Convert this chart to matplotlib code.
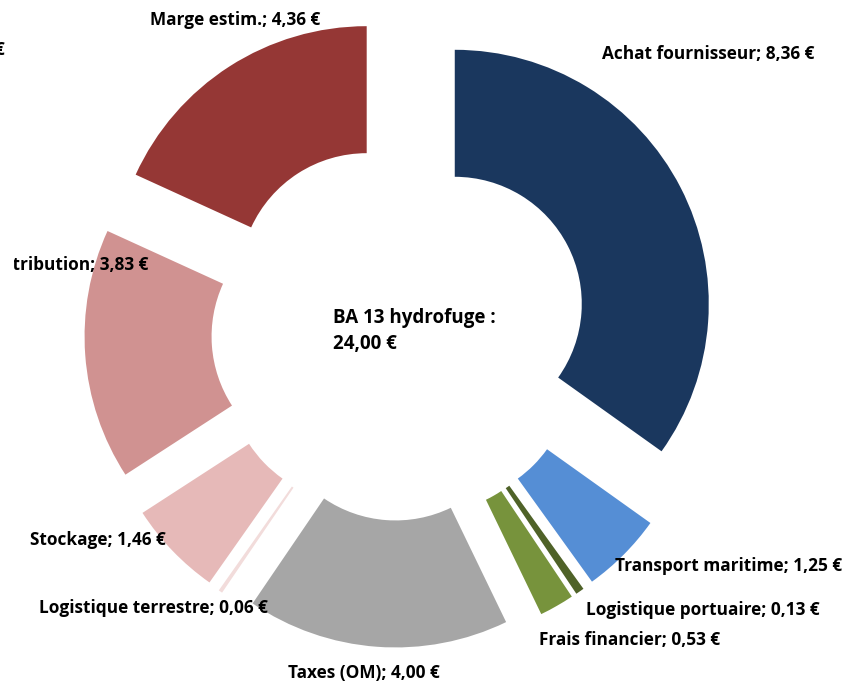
import matplotlib
matplotlib.use("Agg")
import matplotlib.pyplot as plt
from matplotlib.transforms import Bbox, TransformedBbox

# cost breakdown for one product, clockwise from 12 o'clock
categories = ["Achat fournisseur", "Transport maritime", "Logistique portuaire",
              "Frais financier", "Taxes (OM)", "Logistique terrestre",
              "Stockage", "Distribution", "Marge estim."]
values = [8.36, 1.25, 0.13, 0.53, 4.00, 0.06, 1.46, 3.83, 4.36]
colors = ["#1A375E", "#558ED5", "#4F6228", "#77933C", "#A6A6A6",
          "#F2DCDB", "#E6B9B8", "#D09291", "#953735"]
total_label = "BA 13 hydrofuge :\n24,00 €"

W, H = 848, 685
CX, CY = 400, H - 332   # pie centre in pixel coords (y up)
R = 254
EXPLODE = 61.6

# label anchor (x, y from top, ha)
label_pos = [
    (708, 54, "center"),
    (842, 566, "right"),
    (820, 610, "right"),
    (720, 640, "right"),
    (364, 673, "center"),
    (268, 608, "right"),
    (166, 540, "right"),
    (148, 265, "right"),
    (235, 20, "center"),
]


def fmt(v):
    return f"{v:.2f}".replace(".", ",") + " €"


plt.rcParams["font.family"] = ["Open Sans", "DejaVu Sans"]

fig = plt.figure(figsize=(W / 100, H / 100), dpi=100)
ax = fig.add_axes([0, 0, 1, 1])

ax.pie(values, colors=colors, startangle=90, counterclock=False,
       center=(CX, CY), radius=R, explode=[EXPLODE] * len(values),
       wedgeprops=dict(width=R / 2, linewidth=0), frame=True)
ax.set_xlim(0, W)
ax.set_ylim(0, H)
ax.set_aspect("equal")
ax.axis("off")

# the original chart area is cut a little inside the left edge
clip_box = TransformedBbox(Bbox([[14, 0], [W, H]]), ax.transData)

for name, v, (x, y, ha) in zip(categories, values, label_pos):
    t = ax.text(x, H - y, f"{name}; {fmt(v)}", ha=ha, va="center",
                fontsize=12.4, fontweight="bold", color="black")
    t.set_clip_box(clip_box)
    t.set_clip_on(True)

# clipped label at the far left edge
ax.text(4, H - 50, "€", ha="right", va="center", fontsize=12.4,
        fontweight="bold", color="black")

ax.text(333, H - 331, total_label, ha="left", va="center",
        fontsize=13.5, fontweight="bold", linespacing=1.4)

fig.savefig("out.png", dpi=100)
